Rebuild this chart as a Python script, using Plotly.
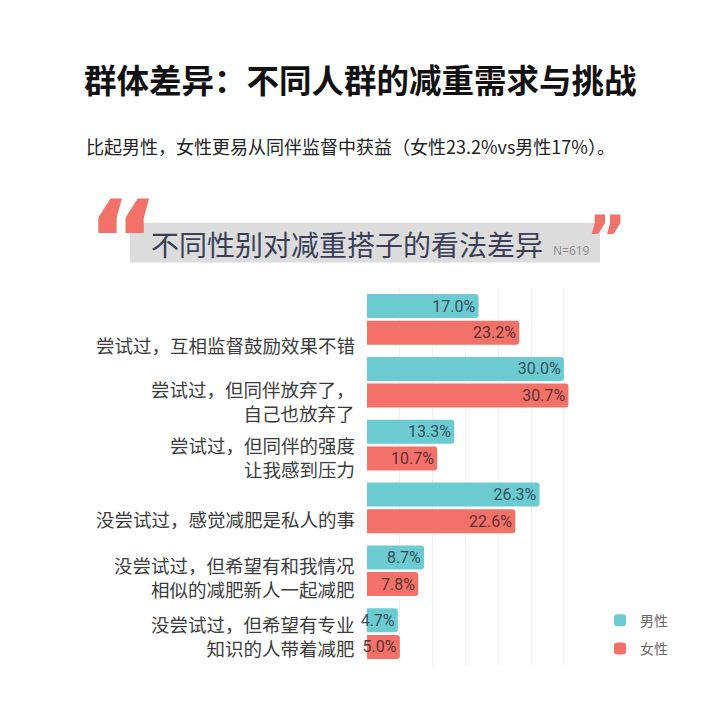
import plotly.graph_objects as go

categories = [
    "尝试过，互相监督鼓励效果不错",
    "尝试过，但同伴放弃了，<br>自己也放弃了",
    "尝试过，但同伴的强度<br>让我感到压力",
    "没尝试过，感觉减肥是私人的事",
    "没尝试过，但希望有和我情况<br>相似的减肥新人一起减肥",
    "没尝试过，但希望有专业<br>知识的人带着减肥",
]
male = [17.0, 30.0, 13.3, 26.3, 8.7, 4.7]
female = [23.2, 30.7, 10.7, 22.6, 7.8, 5.0]
series_names = ["男性", "女性"]

title_text = "群体差异：不同人群的减重需求与挑战"
subtitle_text = "比起男性，女性更易从同伴监督中获益（女性23.2%vs男性17%）。"
box_title = "不同性别对减重搭子的看法差异"
sample_text = "N=619"

TEAL = "#6ccbd1"
RED = "#f2726a"
CJK = "Noto Sans CJK SC"
NUM_FONT = "Roboto, sans-serif"

label_offsets = [26, 19, 12, 11, 6, 2]  # px downward shift of category labels

# page body has an 8px margin; work in screenshot pixels and convert
OFF = 8
FW, FH = 720 - OFF, 722 - OFF
L, R, T, B = 367 - OFF, 143, 287.5 - OFF, 56.5
pw = FW - L - R
ph = FH - T - B


def pxp(X):
    return (X - OFF - L) / pw


def pyp(Y):
    return (FH - B - (Y - OFF)) / ph


fig = go.Figure()
fig.add_trace(go.Bar(
    y=categories, x=male, name=series_names[0], orientation="h",
    marker=dict(color=TEAL, cornerradius=3, line=dict(width=0)),
    text=[f"{v:.1f}%" for v in male], textposition="inside",
    insidetextanchor="end", textangle=0, cliponaxis=False,
    textfont=dict(family=NUM_FONT, size=16, color="#33505a"),
    legendgroup="m",
))
fig.add_trace(go.Bar(
    y=categories, x=female, name=series_names[1], orientation="h",
    marker=dict(color=RED, cornerradius=3, line=dict(width=0)),
    text=[f"{v:.1f}%" for v in female], textposition="inside",
    insidetextanchor="end", textangle=0, cliponaxis=False,
    textfont=dict(family=NUM_FONT, size=16, color="#5e2f2f"),
    legendgroup="f",
))

annotations = []
for cat, off in zip(categories, label_offsets):
    annotations.append(dict(
        x=0, xref="paper", xanchor="right", xshift=-10,
        y=cat, yref="y", yanchor="middle", yshift=-off,
        text=cat, showarrow=False, align="right",
        font=dict(family=CJK, size=18.5, color="#3c3c3c"),
    ))

annotations += [
    dict(x=pxp(360), y=pyp(77), xref="paper", yref="paper", xanchor="center", yanchor="middle",
         text=f"<b>{title_text}</b>", showarrow=False,
         font=dict(family=CJK, size=32.5, color="#111111")),
    dict(x=pxp(84), y=pyp(145), xref="paper", yref="paper", xanchor="left", yanchor="middle",
         text=subtitle_text, showarrow=False,
         font=dict(family=CJK, size=18, color="#222222")),
    dict(x=pxp(149), y=pyp(243), xref="paper", yref="paper", xanchor="left", yanchor="middle",
         text=box_title, showarrow=False,
         font=dict(family=CJK, size=28, color="#3b3f58")),
    dict(x=pxp(551), y=pyp(250), xref="paper", yref="paper", xanchor="left", yanchor="middle",
         text=sample_text, showarrow=False,
         font=dict(family="Open Sans", size=12, color="#8a8a8a")),
    dict(x=pxp(123), y=pyp(240), xref="paper", yref="paper", xanchor="center", yanchor="middle",
         text="<b>“</b>", showarrow=False,
         font=dict(family="DejaVu Sans", size=110, color=RED)),
    dict(x=pxp(606), y=pyp(238), xref="paper", yref="paper", xanchor="center", yanchor="middle",
         text="<b>”</b>", showarrow=False,
         font=dict(family="DejaVu Sans", size=62, color=RED)),
]

shapes = [
    dict(type="rect", xref="paper", yref="paper",
         x0=pxp(130), x1=pxp(600), y0=pyp(262), y1=pyp(222),
         fillcolor="#dcdcdc", line=dict(width=0), layer="below"),
]

fig.update_layout(
    width=FW, height=FH,
    margin=dict(l=L, r=R, t=T, b=B, autoexpand=False),
    paper_bgcolor="white", plot_bgcolor="white",
    barmode="group", bargap=0.15, bargroupgap=0.1,
    uniformtext=dict(minsize=16, mode="show"),
    xaxis=dict(range=[0, 32], dtick=5, showgrid=True, gridcolor="#f0f0f0", gridwidth=1,
               showticklabels=False, zeroline=False, showline=False, ticks=""),
    yaxis=dict(range=[len(categories) - 0.5, -0.5], autorange=False,
               showticklabels=False, showgrid=False,
               zeroline=False, showline=False, ticks=""),
    legend=dict(x=pxp(600), y=pyp(605), xref="paper", yref="paper",
                xanchor="left", yanchor="top",
                font=dict(family=CJK, size=14, color="#666666"),
                tracegroupgap=7, bgcolor="rgba(0,0,0,0)"),
    showlegend=True,
    annotations=annotations,
    shapes=shapes,
)

fig.write_html("out.html")
